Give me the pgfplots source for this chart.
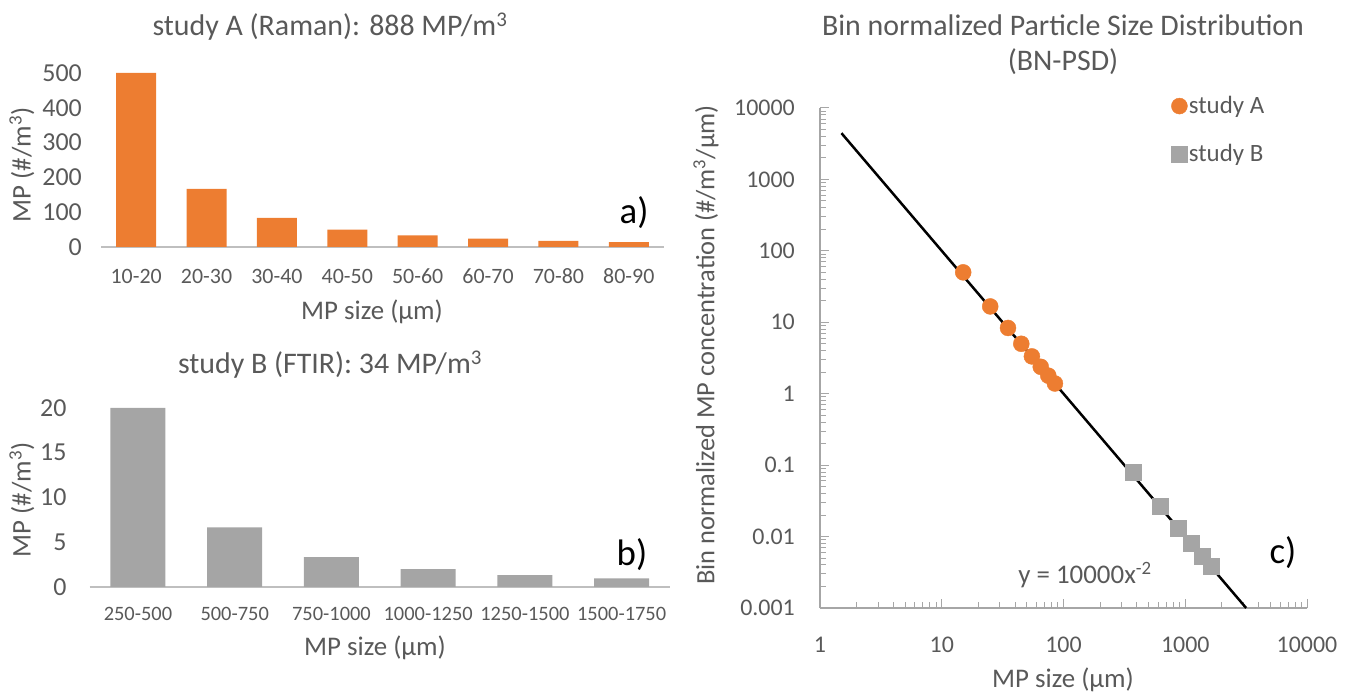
\documentclass[border=0pt]{standalone}
\usepackage{pgfplots}
\pgfplotsset{compat=1.18}
\usepackage{fontspec}
\setmainfont{Carlito}

\definecolor{txt}{HTML}{595959}
\definecolor{orng}{HTML}{ED7D31}
\definecolor{gry}{HTML}{A5A5A5}
\definecolor{axln}{HTML}{BFBFBF}
\definecolor{tickc}{HTML}{A6A6A6}
\newcommand\fs[1]{\fontsize{#1}{#1}\selectfont}

\pgfplotsset{
  barchart/.style={
    scale only axis, anchor=south west,
    ybar, ymin=0, xtick=data,
    enlargelimits=false, clip=false,
    axis lines*=left,
    x axis line style={axln, line width=1.5bp},
    y axis line style={draw=none},
    major tick length=0pt,
    tick label style={text=txt, inner sep=0pt},
    xticklabel style={font=\fs{22}, anchor=center},
    yticklabel style={font=\fs{26}, anchor=east},
    /pgf/number format/assume math mode=true,
  },
}

\begin{document}
\begin{tikzpicture}[x=1bp, y=1bp]
\path[use as bounding box] (0,0) rectangle (1364,695);

% a) study A
\begin{axis}[barchart, at={(101bp,448bp)}, width=563bp, height=174bp,
  xmin=-0.5, xmax=7.5, ymax=500, ytick={0,100,...,500},
  bar width=40bp,
  xticklabels={10-20,20-30,30-40,40-50,50-60,60-70,70-80,80-90},
  xticklabel style={yshift=-29bp},
  yticklabel style={xshift=-19bp}]
\addplot[fill=orng, draw=none] coordinates {
  (0,500) (1,166.7) (2,83.3) (3,50) (4,33.3) (5,23.8) (6,17.9) (7,13.9)};
\end{axis}

% b) study B
\begin{axis}[barchart, at={(89.6bp,108bp)}, width=580.4bp, height=179bp,
  xmin=-0.5, xmax=5.5, ymax=20, ytick={0,5,...,20},
  bar width=55bp,
  xticklabels={250-500,500-750,750-1000,1000-1250,1250-1500,1500-1750},
  xticklabel style={yshift=-27bp, font=\fs{20.5}},
  yticklabel style={xshift=-23bp}]
\addplot[fill=gry, draw=none] coordinates {
  (0,20) (1,6.67) (2,3.33) (3,2) (4,1.33) (5,0.95)};
\end{axis}

% c) BN-PSD
\begin{axis}[scale only axis, anchor=south west, at={(820bp,87bp)},
  width=487bp, height=500bp,
  xmode=log, ymode=log,
  xmin=1, xmax=10000, ymin=0.001, ymax=10000,
  clip=false,
  axis lines*=left,
  axis line style={tickc, line width=1.5bp},
  tick style={tickc, line width=1bp},
  tick align=inside,
  major tick length=9bp, minor tick length=6bp,
  xtick={1,10,100,1000,10000},
  xticklabels={1,10,100,1000,10000},
  ytick={0.001,0.01,0.1,1,10,100,1000,10000},
  yticklabels={0.001,0.01,0.1,1,10,100,1000,10000},
  minor xtick={2,3,4,5,6,7,8,9,20,30,40,50,60,70,80,90,
    200,300,400,500,600,700,800,900,2000,3000,4000,5000,6000,7000,8000,9000},
  minor ytick={0.002,0.003,0.004,0.005,0.006,0.007,0.008,0.009,
    0.02,0.03,0.04,0.05,0.06,0.07,0.08,0.09,
    0.2,0.3,0.4,0.5,0.6,0.7,0.8,0.9,
    2,3,4,5,6,7,8,9,20,30,40,50,60,70,80,90,
    200,300,400,500,600,700,800,900,2000,3000,4000,5000,6000,7000,8000,9000},
  tick label style={text=txt, font=\fs{24}, inner sep=0pt},
  xticklabel style={anchor=center, yshift=-37bp},
  yticklabel style={anchor=east, xshift=-25bp},
  legend cell align=left,
  legend style={at={(0.715,1.03)}, anchor=north west, draw=none, fill=none,
    font=\fs{25}, text=txt, row sep=26bp,
    nodes={inner sep=1.5bp}},
]
\addplot[black, line width=2.5bp, forget plot] coordinates {(1.5,4444.4) (3162.3,0.001)};
\addplot[only marks, mark=*, mark size=8bp, color=orng] coordinates {
  (15,50) (25,16.67) (35,8.33) (45,5) (55,3.33) (65,2.38) (75,1.79) (85,1.39)};
\addlegendentry{study A}
\addplot[only marks, mark=square*, mark size=8bp, color=gry] coordinates {
  (375,0.08) (625,0.0267) (875,0.0133) (1125,0.008) (1375,0.00533) (1625,0.0038)};
\addlegendentry{study B}
\end{axis}

% titles and labels
\begin{scope}[every node/.style={text=txt, inner sep=0pt}]
\node[font=\fs{30}] at (330,668) {study A (Raman): 888 MP/m\textsuperscript{3}};
\node[font=\fs{30}] at (330,330) {study B (FTIR): 34 MP/m\textsuperscript{3}};
\node[font=\fs{27}] at (372,383) {MP size (µm)};
\node[font=\fs{27}] at (375,47) {MP size (µm)};
\node[font=\fs{27}, rotate=90] at (22,530) {MP (\#/m\textsuperscript{3})};
\node[font=\fs{27}, rotate=90] at (22,195) {MP (\#/m\textsuperscript{3})};
\node[font=\fs{30}] at (1063,670) {Bin normalized Particle Size Distribution};
\node[font=\fs{30}] at (1063,633) {(BN-PSD)};
\node[font=\fs{26.5}, rotate=90] at (706,350) {Bin normalized MP concentration (\#/m\textsuperscript{3}/µm)};
\node[font=\fs{27}] at (1063,15) {MP size (µm)};
\node[font=\fs{27}] at (1085,120) {y = 10000x\textsuperscript{-2}};
\end{scope}
\begin{scope}[every node/.style={text=black, inner sep=0pt, font=\fs{37}}]
\node at (634,482) {a)};
\node at (632,140) {b)};
\node at (1283,142) {c)};
\end{scope}
\end{tikzpicture}
\end{document}
